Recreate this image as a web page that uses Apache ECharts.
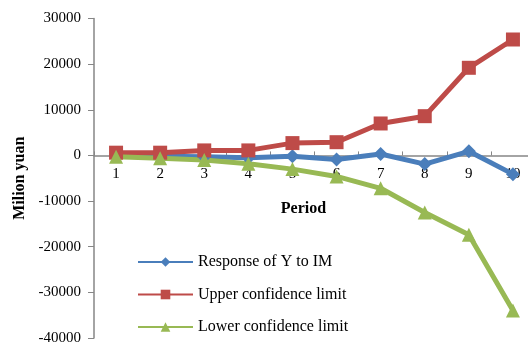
<!DOCTYPE html>
<html>
<head>
<meta charset="utf-8">
<script src="https://cdn.jsdelivr.net/npm/echarts@6/dist/echarts.min.js"></script>
<style>
  html, body { margin: 0; padding: 0; background: #fff; }
  #chart { width: 528px; height: 347px; }
</style>
</head>
<body>
<div id="chart"></div>
<script>
// Données
const periods = ["1", "2", "3", "4", "5", "6", "7", "8", "9", "10"];
const response = [0, -200, -300, -500, -200, -900, 300, -1900, 900, -4100];
const upper = [600, 600, 1100, 1100, 2700, 2900, 7000, 8600, 19200, 25400];
const lower = [-300, -600, -1000, -1800, -3000, -4600, -7200, -12500, -17400, -34000];

const serif = "Liberation Serif";
const yMin = -40000;
const yMax = 30000;

// Zone de tracé (px)
const gridTop = 18.5;
const gridBottom = 9;
const plotHeight = 347 - gridTop - gridBottom;
// L'axe des X est placé sur la valeur 0
const zeroOffset = -plotHeight * (0 - yMin) / (yMax - yMin);

function serie(name, data, color, symbol, size) {
  return {
    name: name,
    type: "line",
    z: 5,
    data: data,
    symbol: symbol,
    symbolSize: size,
    lineStyle: { color: color, width: 5 },
    itemStyle: { color: color },
  };
}

const myChart = echarts.init(document.getElementById("chart"));

myChart.setOption({
  animation: false,
  textStyle: { fontFamily: serif },
  grid: {
    left: 94, right: -7, top: gridTop, bottom: gridBottom,
    containLabel: false,
    outerBoundsMode: "none",
  },
  legend: {
    orient: "vertical",
    left: 137,
    top: 254,
    padding: 0,
    itemWidth: 55,
    itemHeight: 12,
    itemGap: 16.5,
    textStyle: { fontFamily: serif, fontSize: 16, color: "#000" },
    data: ["Response of Y to IM", "Upper confidence limit", "Lower confidence limit"],
  },
  xAxis: {
    type: "category",
    data: periods,
    boundaryGap: true,
    offset: zeroOffset,
    axisLine: { onZero: false, lineStyle: { color: "#868686", width: 1.5 } },
    axisTick: { show: true, inside: true, length: 4, lineStyle: { color: "#868686" } },
    axisLabel: { fontFamily: serif, fontSize: 15, color: "#000", margin: 11 },
    name: "Period",
    nameLocation: "middle",
    nameGap: 45,
    nameTextStyle: {
      fontFamily: serif, fontSize: 16, fontWeight: "bold", color: "#000",
      padding: [0, 22, 0, 0],
    },
  },
  yAxis: {
    type: "value",
    min: yMin,
    max: yMax,
    interval: 10000,
    splitLine: { show: false },
    axisLine: { show: true, lineStyle: { color: "#868686", width: 1.5 } },
    axisTick: { show: true, length: 6, lineStyle: { color: "#868686" } },
    axisLabel: {
      fontFamily: serif, fontSize: 15, color: "#000", margin: 13,
      formatter: (v) => String(v),
    },
    name: "Milion yuan",
    nameLocation: "middle",
    nameGap: 66,
    nameRotate: 90,
    nameTextStyle: { fontFamily: serif, fontSize: 16, fontWeight: "bold", color: "#000" },
  },
  series: [
    serie("Response of Y to IM", response, "#4a7ebb", "diamond", 14),
    serie("Upper confidence limit", upper, "#be4b48", "rect", 14),
    serie("Lower confidence limit", lower, "#98b954", "triangle", 14),
  ],
});
</script>
</body>
</html>
